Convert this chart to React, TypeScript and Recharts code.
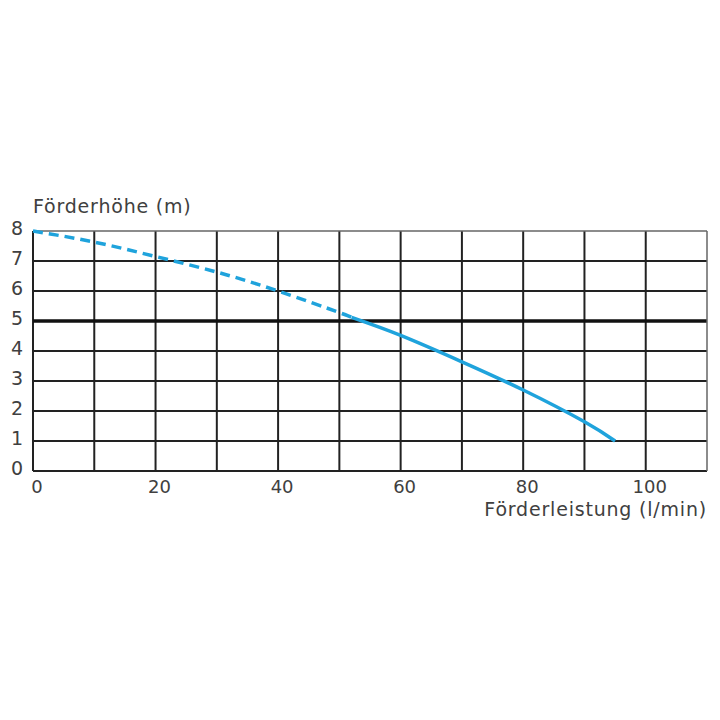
import React from 'react';
import { LineChart, Line, XAxis, YAxis, CartesianGrid, ReferenceLine } from 'recharts';

const flowValues = [0, 10, 20, 30, 40, 50, 52, 60, 70, 80, 90, 95];
const headDashed = [8, 7.63, 7.15, 6.63, 6.0, 5.28, 5.12, null, null, null, null, null];
const headSolid = [null, null, null, null, null, null, 5.12, 4.52, 3.64, 2.7, 1.64, 1.0];
const xTicks = [0, 10, 20, 30, 40, 50, 60, 70, 80, 90, 100, 110];
const xLabelled = [0, 20, 40, 60, 80, 100];
const yTicks = [0, 1, 2, 3, 4, 5, 6, 7, 8];
const xInnerGrid = [0, 10, 20, 30, 40, 50, 60, 70, 80, 90, 100];
const yInnerGrid = [0, 1, 2, 3, 4, 6, 7];

const data = flowValues.map((x, i) => ({ x, dashed: headDashed[i], solid: headSolid[i] }));

const FONT = '"DejaVu Sans", sans-serif';
const TXT = '#404040';
const BLUE = '#1fa3dc';

export default function App() {
  return (
    <div style={{ position: 'absolute', left: 0, top: 0, width: 720, height: 720, background: '#fff' }}>
      <LineChart width={720} height={720} data={data} margin={{ top: 231, right: 13, bottom: 229, left: 0 }}>
        <CartesianGrid
          stroke="#222"
          strokeWidth={2}
          horizontalValues={yInnerGrid}
          verticalValues={xInnerGrid}
        />
        <XAxis
          dataKey="x"
          type="number"
          domain={[0, 110]}
          ticks={xTicks}
          height={20}
          axisLine={false}
          tickLine={false}
          tickSize={0}
          tickMargin={9}
          interval={0}
          tick={{ fill: TXT, fontSize: 18, fontFamily: FONT, dx: 4 }}
          tickFormatter={(v: number) => (xLabelled.includes(v) ? String(v) : '')}
          label={{
            content: () => (
              <text x={707} y={516} textAnchor="end" fill={TXT} fontSize={19} letterSpacing={0.8} fontFamily={FONT}>
                Förderleistung (l/min)
              </text>
            ),
          }}
        />
        <YAxis
          type="number"
          domain={[0, 8]}
          ticks={yTicks}
          width={33}
          axisLine={false}
          tickLine={false}
          tickSize={0}
          tickMargin={10}
          interval={0}
          tick={{ fill: TXT, fontSize: 19, fontFamily: FONT, dy: -3 }}
          label={{
            content: () => (
              <text x={33} y={213} textAnchor="start" fill={TXT} fontSize={19} letterSpacing={0.8} fontFamily={FONT}>
                Förderhöhe (m)
              </text>
            ),
          }}
        />
        <ReferenceLine y={5} stroke="#111" strokeWidth={3.5} />
        <ReferenceLine y={8} stroke="#666" strokeWidth={1.5} />
        <ReferenceLine x={110} stroke="#666" strokeWidth={1.5} />
        <Line
          type="natural"
          dataKey="dashed"
          stroke={BLUE}
          strokeWidth={3.5}
          strokeDasharray="10 6"
          dot={false}
          connectNulls={false}
          isAnimationActive={false}
        />
        <Line
          type="natural"
          dataKey="solid"
          stroke={BLUE}
          strokeWidth={3.5}
          dot={false}
          connectNulls={false}
          isAnimationActive={false}
        />
      </LineChart>
    </div>
  );
}
